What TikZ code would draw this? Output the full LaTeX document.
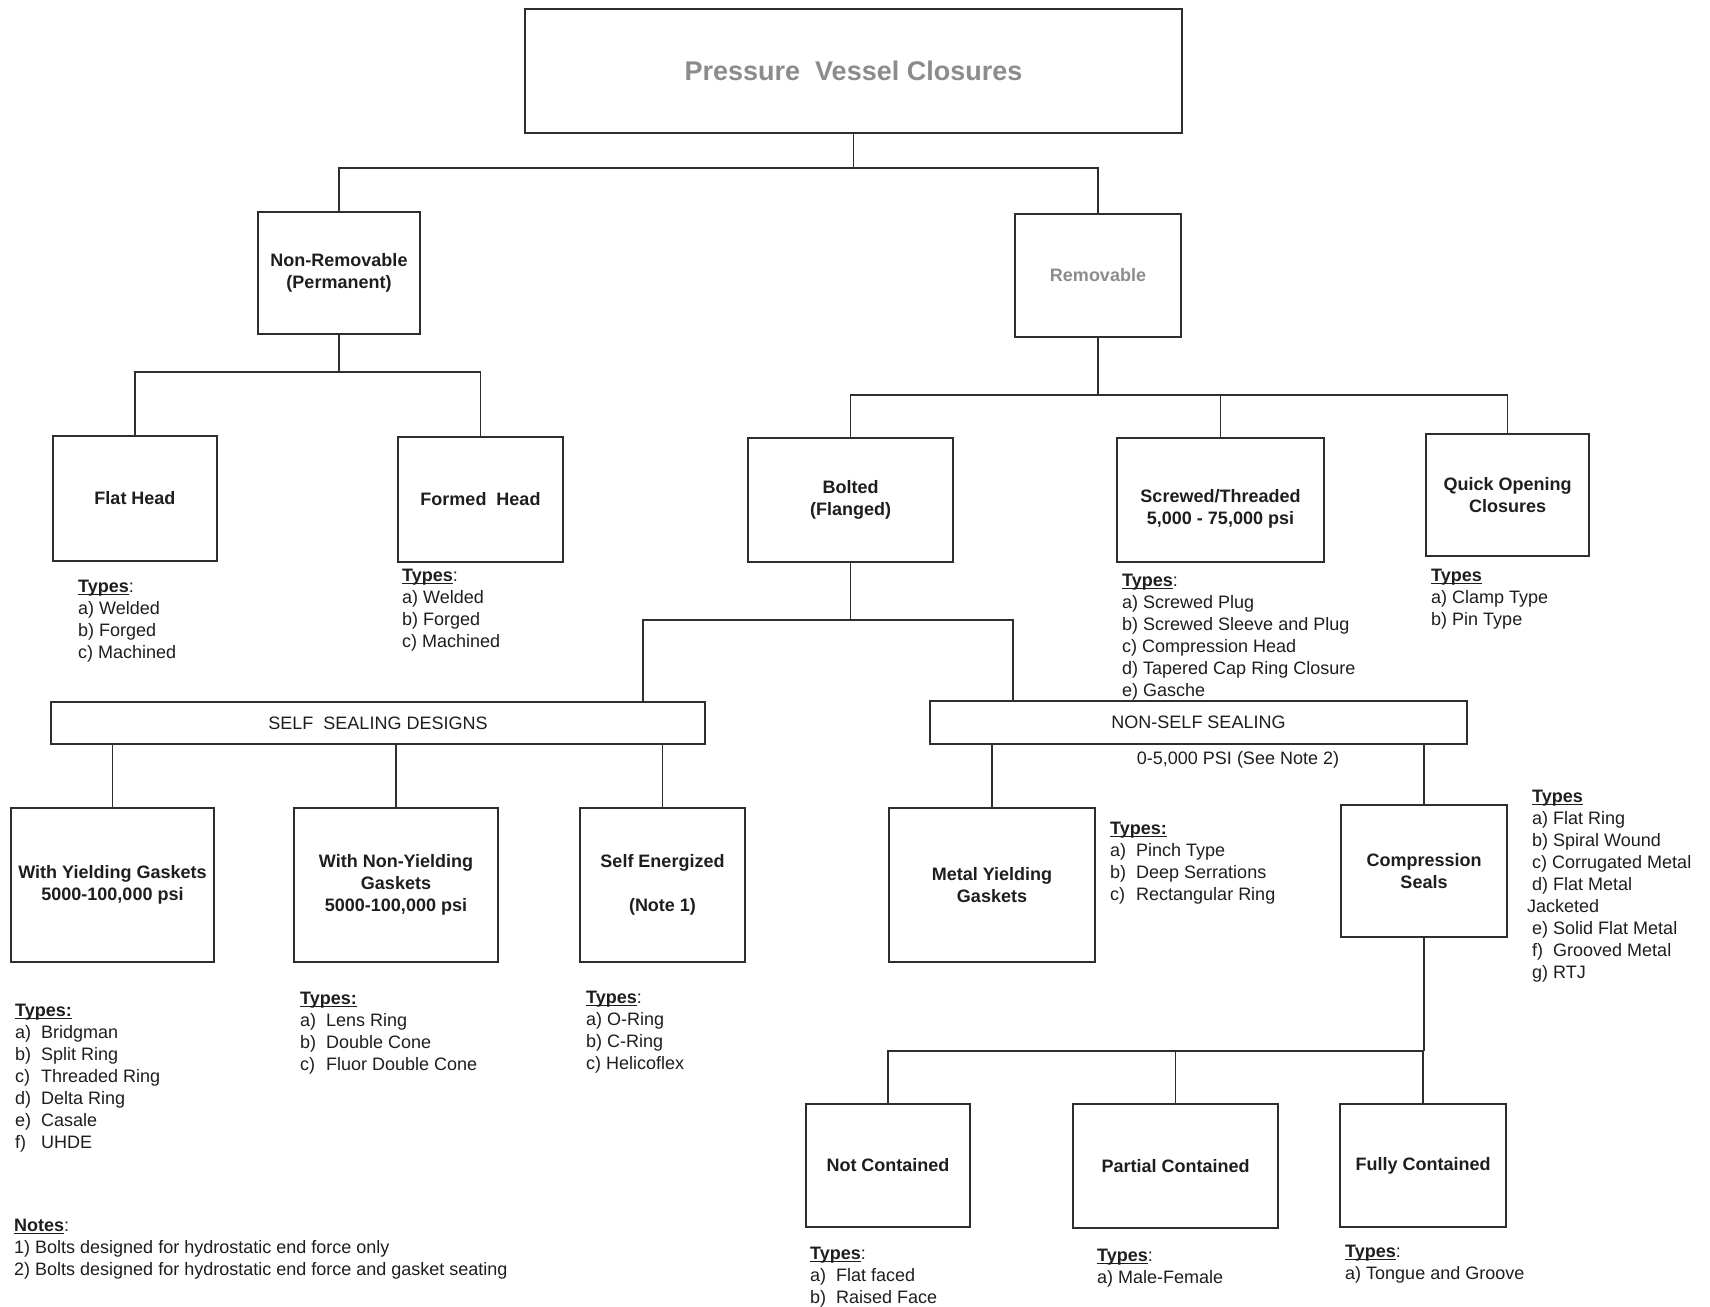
\documentclass[tikz,border=0pt]{standalone}
\usepackage{fontspec}
\setmainfont{Liberation Sans}
\definecolor{lc}{HTML}{2E2E2E}
\definecolor{tc}{HTML}{1E1E1E}
\definecolor{gc}{HTML}{8C8C8C}
\newcommand\ulin[1]{\setbox0\hbox{#1}\rlap{\rule[-2.2pt]{\wd0}{1.2pt}}\box0}
\newcommand\TypesU{\ulin{\textbf{Types}}}
\newcommand\TypesUC{\ulin{\textbf{Types:}}}
\newcommand\tabit[1]{\makebox[26pt][l]{#1}}
\tikzset{
  box/.style={draw=lc, line width=1.4pt, fill=white, align=center, inner sep=0pt,
    font=\fontsize{18}{22}\selectfont\bfseries, text=tc},
  btxt/.style={align=center, inner sep=0pt, font=\fontsize{18}{22}\selectfont\bfseries, text=tc},
  bar/.style={draw=lc, line width=1.4pt, fill=white, inner sep=0pt,
    font=\fontsize{18}{22}\selectfont, text=tc},
  list/.style={anchor=north west, align=left, inner sep=0pt,
    font=\fontsize{18}{22}\selectfont, text=tc},
  conn/.style={draw=lc, line width=1.4pt},
}
\begin{document}
\begin{tikzpicture}[x=1pt,y=-1pt]
\useasboundingbox[fill=white] (0,0) rectangle (1710,1306);

% ---- boxes ----
\node[box, minimum width=657pt, minimum height=124pt, text=gc,
  font=\fontsize{27}{32}\selectfont\bfseries] (title) at (853.5,71) {Pressure\ \ Vessel Closures};
\node[box, minimum width=162pt, minimum height=122pt] (nonrem) at (339,273) {Non-Removable\\(Permanent)};
\node[box, minimum width=166pt, minimum height=123pt, text=gc] (rem) at (1098,275.5) {Removable};

\node[box, minimum width=164pt, minimum height=125pt] (flat) at (135,498.5) {Flat Head};
\node[box, minimum width=165pt, minimum height=125pt] (formed) at (480.5,499.5) {Formed\ \ Head};

\node[box, minimum width=205pt, minimum height=124pt] (bolted) at (850.5,500) {Bolted\\(Flanged)};
\node[box, minimum width=207pt, minimum height=124pt] (screwed) at (1220.5,500) {};
\node[btxt] (screwedt) at (1220.5,509) {Screwed/Threaded\\5,000 - 75,000 psi};
\node[box, minimum width=163pt, minimum height=122pt] (quick) at (1507.5,495) {Quick Opening\\Closures};

\node[bar, minimum width=654pt, minimum height=42pt] (ssd) at (378,723) {SELF\ \ SEALING DESIGNS};
\node[bar, minimum width=537pt, minimum height=43pt] (nss) at (1198.5,722.5) {NON-SELF SEALING};
\node[list, anchor=center] (nssp) at (1238,760) {0-5,000 PSI (See Note 2)};

\node[box, minimum width=203pt, minimum height=154pt] (yg) at (112.5,885) {With Yielding Gaskets\\5000-100,000 psi};
\node[box, minimum width=204pt, minimum height=154pt] (nyg) at (396,885) {With Non-Yielding\\Gaskets\\5000-100,000 psi};
\node[box, minimum width=165pt, minimum height=154pt] (se) at (662.5,885) {Self Energized\\[22pt](Note 1)};
\node[box, minimum width=206pt, minimum height=154pt] (myg) at (992,885) {Metal Yielding\\Gaskets};
\node[box, minimum width=166pt, minimum height=132pt] (comp) at (1424,871) {Compression\\Seals};

\node[box, minimum width=164pt, minimum height=123pt] (notc) at (888,1165.5) {Not Contained};
\node[box, minimum width=205pt, minimum height=124pt] (partc) at (1175.5,1166) {Partial Contained};
\node[box, minimum width=166pt, minimum height=123pt] (fullc) at (1423,1165.5) {Fully Contained};

% ---- connectors ----
\coordinate (j0) at (853,168);
\draw[conn] (title.south) -- (title.south |- j0);
\draw[conn] (nonrem.north) -- (nonrem.north |- j0) -- (rem.north |- j0) -- (rem.north);

\coordinate (j1) at (339,372);
\draw[conn] (nonrem.south) -- (nonrem.south |- j1);
\draw[conn] (flat.north) -- (flat.north |- j1) -- (formed.north |- j1) -- (formed.north);

\coordinate (j2) at (1098,395);
\draw[conn] (rem.south) -- (rem.south |- j2);
\draw[conn] (bolted.north) -- (bolted.north |- j2) -- (quick.north |- j2) -- (quick.north);
\draw[conn] (screwed.north) -- (screwed.north |- j2);

\coordinate (b1) at (643,620);
\coordinate (b2) at (1013,620);
\draw[conn] (bolted.south) -- (bolted.south |- b1);
\draw[conn] (b1 |- ssd.north) -- (b1) -- (b2) -- (b2 |- nss.north);

\draw[conn] (ssd.south -| yg.north) -- (yg.north);
\draw[conn] (ssd.south -| nyg.north) -- (nyg.north);
\draw[conn] (ssd.south -| se.north) -- (se.north);
\draw[conn] (nss.south -| myg.north) -- (myg.north);
\draw[conn] (nss.south -| comp.north) -- (comp.north);

\coordinate (j3) at (1424,1051);
\draw[conn] (comp.south) -- (comp.south |- j3);
\draw[conn] (notc.north) -- (notc.north |- j3) -- (fullc.north |- j3) -- (fullc.north);
\draw[conn] (partc.north) -- (partc.north |- j3);

% ---- type lists ----
\node[list] (flatT) at (78,580) {\TypesU:\\a) Welded\\b) Forged\\c) Machined};
\node[list] (formedT) at (402,569) {\TypesU:\\a) Welded\\b) Forged\\c) Machined};
\node[list] (screwedT) at (1122,574) {\TypesU:\\a) Screwed Plug\\b) Screwed Sleeve and Plug\\c) Compression Head\\d) Tapered Cap Ring Closure\\e) Gasche};
\node[list] (quickT) at (1431,569) {\TypesU\\a) Clamp Type\\b) Pin Type};

\node[list] (ygT) at (15,1004) {\TypesUC\\\tabit{a)}Bridgman\\\tabit{b)}Split Ring\\\tabit{c)}Threaded Ring\\\tabit{d)}Delta Ring\\\tabit{e)}Casale\\\tabit{f)}UHDE};
\node[list] (nygT) at (300,992) {\TypesUC\\\tabit{a)}Lens Ring\\\tabit{b)}Double Cone\\\tabit{c)}Fluor Double Cone};
\node[list] (seT) at (586,991) {\TypesU:\\a) O-Ring\\b) C-Ring\\c) Helicoflex};
\node[list] (mygT) at (1110,822) {\TypesUC\\\tabit{a)}Pinch Type\\\tabit{b)}Deep Serrations\\\tabit{c)}Rectangular Ring};
\node[list] (compT) at (1532,790) {\TypesU\\a) Flat Ring\\b) Spiral Wound\\c) Corrugated Metal\\d) Flat Metal\\\hspace*{-5pt}Jacketed\\e) Solid Flat Metal\\f)\ \ Grooved Metal\\g) RTJ};

\node[list] (notcT) at (810,1247) {\TypesU:\\\tabit{a)}Flat faced\\\tabit{b)}Raised Face};
\node[list] (partcT) at (1097,1249) {\TypesU:\\a) Male-Female};
\node[list] (fullcT) at (1345,1245) {\TypesU:\\a) Tongue and Groove};

\node[list] (notes) at (14,1219) {\ulin{\textbf{Notes}}:\\1) Bolts designed for hydrostatic end force only\\2) Bolts designed for hydrostatic end force and gasket seating};
\end{tikzpicture}
\end{document}
